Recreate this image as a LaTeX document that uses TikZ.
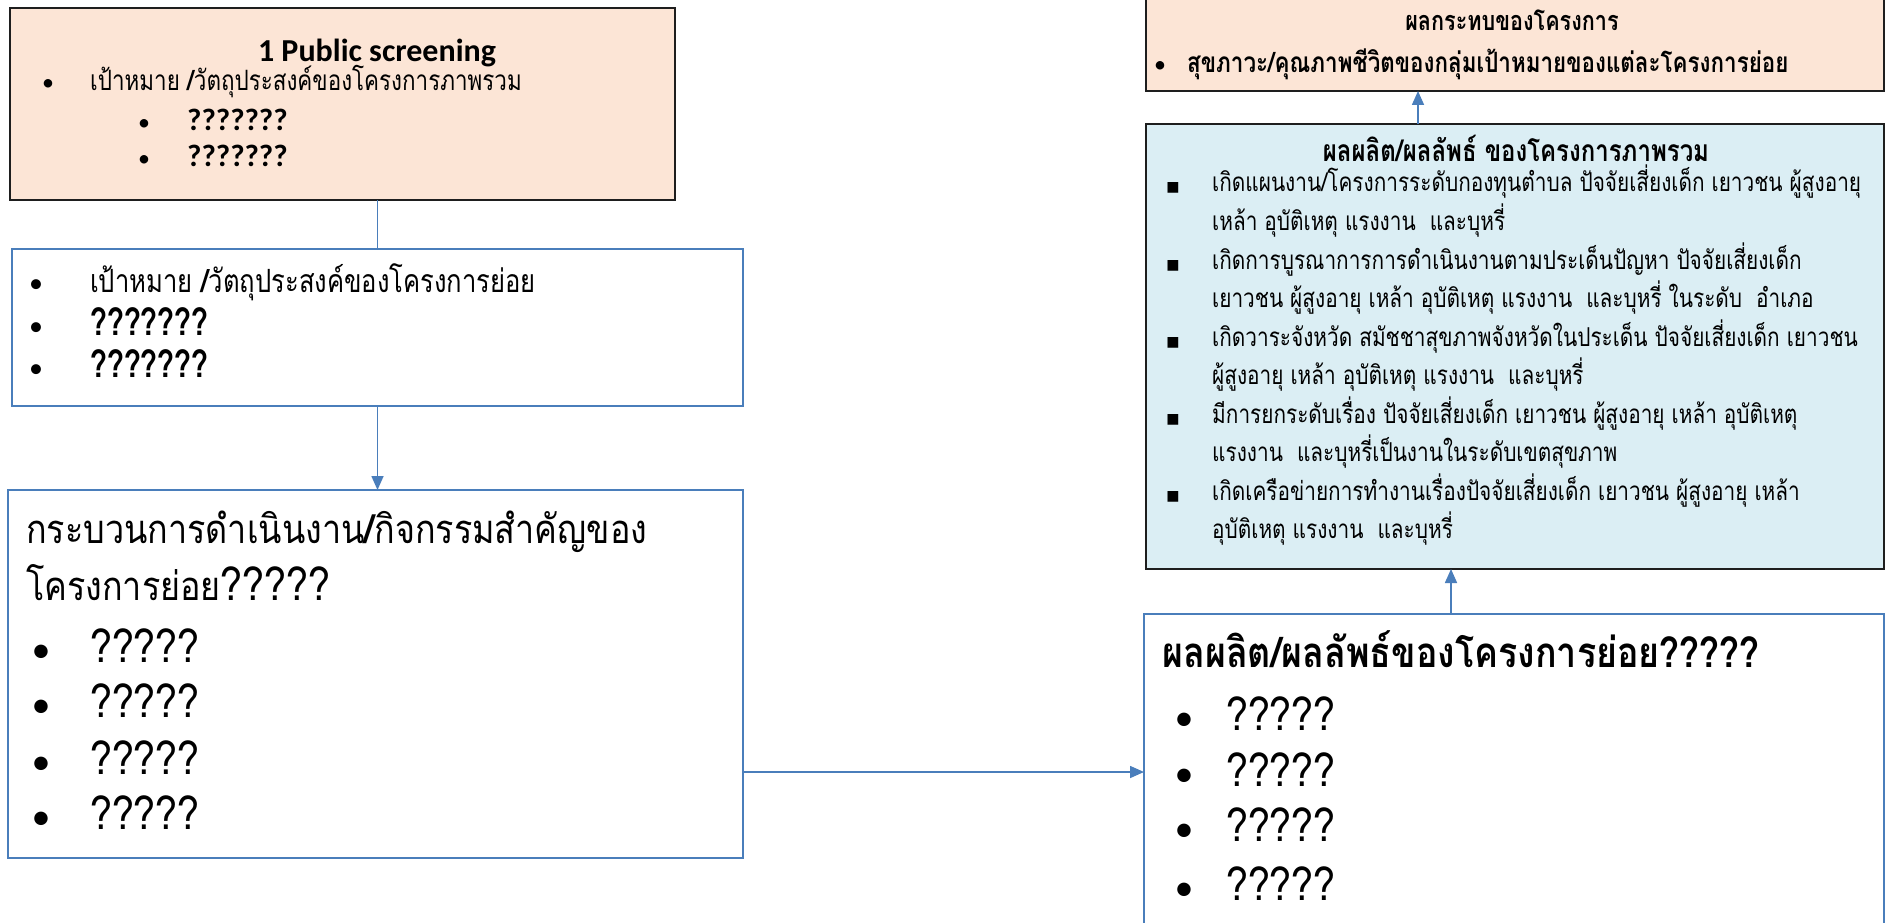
\documentclass[tikz,border=0pt]{standalone}
\usepackage{fontspec}
\usetikzlibrary{arrows.meta,calc}
\setmainfont{Carlito}
\newfontfamily\thn[Script=Thai,FakeStretch=0.8]{Loma}
\newfontfamily\thw[Script=Thai,FakeStretch=0.853]{Loma}
\newfontfamily\sym{DejaVu Sans}
\newcommand\setfs[1]{\fontsize{#1}{#1}\selectfont}
\definecolor{peach}{RGB}{252,229,214}
\definecolor{paleblue}{RGB}{219,238,244}
\definecolor{boxblue}{RGB}{74,126,187}
\definecolor{boxdark}{RGB}{30,30,30}
\begin{document}
\begin{tikzpicture}[x=1pt,y=-1pt,
  box/.style={inner sep=0pt,outer sep=0pt,rectangle},
  peachbox/.style={box,fill=peach,draw=boxdark,line width=1.6pt},
  bluebox/.style={box,fill=paleblue,draw=boxdark,line width=1.6pt},
  linebox/.style={box,fill=white,draw=boxblue,line width=1.8pt},
  conn/.style={draw=boxblue,line width=1.6pt},
  arr/.style={conn,-{Triangle[length=14pt,width=12pt]}},
  txt/.style={inner sep=0pt,anchor=base west},
  bul/.style={inner sep=0pt,anchor=base},
]
\useasboundingbox (0,0) rectangle (1888,923);
\clip (0,0) rectangle (1888,923);
\fill[white] (0,0) rectangle (1888,923);

% boxes
\node[peachbox,minimum width=665pt,minimum height=192pt] (b1) at (342.5,104) {};
\node[linebox,minimum width=731pt,minimum height=157pt] (b2) at (377.5,327.5) {};
\node[linebox,minimum width=735pt,minimum height=368pt] (b3) at (375.5,674) {};
\node[linebox,minimum width=740pt,minimum height=320pt] (b4) at (1514,774) {};
\node[bluebox,minimum width=738pt,minimum height=445pt] (b5) at (1515,346.5) {};
\node[peachbox,minimum width=738pt,minimum height=96pt] (b6) at (1515,43) {};

% connectors
\draw[conn] (b2.north |- b1.south) -- (b2.north);
\draw[arr] (b2.south) -- (b2.south |- b3.north);
\coordinate (e3) at ([yshift=-98pt]b3.east);
\draw[arr] (e3) -- (e3 -| b4.west);
\coordinate (x45) at (1451,0);
\draw[arr] (x45 |- b4.north) -- (x45 |- b5.south);
\coordinate (x56) at (1418,0);
\draw[arr] (x56 |- b5.north) -- (x56 |- b6.south);

% box 1
\node[inner sep=0pt,anchor=base,font=\setfs{32}\bfseries] (t1t) at (377,62) {1 Public screening};
\node[bul,font=\setfs{24}] (t1b1) at (48,91) {•};
\node[txt,font=\thn\setfs{28}] (t1a) at (90,91) {เป้าหมาย {\bfseries/}วัตถุประสงค์ของโครงการภาพรวม};
\node[bul,font=\setfs{24}] (t1b2) at (144,131) {•};
\node[txt,font=\setfs{31}\bfseries] (t1c) at (187,131) {???????};
\node[bul,font=\setfs{24}] (t1b3) at (144,167) {•};
\node[txt,font=\setfs{31}\bfseries] (t1d) at (187,167) {???????};

% box 2
\node[bul,font=\setfs{28}] (t2b1) at (36,292) {•};
\node[txt,font=\thn\setfs{32}] (t2a) at (90,292) {เป้าหมาย {\bfseries/}วัตถุประสงค์ของโครงการย่อย};
\node[bul,font=\setfs{28}] (t2b2) at (36,335) {•};
\node[txt,font=\thn\setfs{38}\bfseries] (t2c) at (90,335) {???????};
\node[bul,font=\setfs{28}] (t2b3) at (36,377) {•};
\node[txt,font=\thn\setfs{38}\bfseries] (t2d) at (90,377) {???????};

% box 3
\node[txt,font=\thw\setfs{40}] (t3a) at (26,543) {กระบวนการดำเนินงาน{\bfseries/}กิจกรรมสำคัญของ};
\node[txt,font=\thw\setfs{40}] (t3b) at (26,600) {โครงการย่อย{\setfs{46}?????}};
\foreach \y [count=\i] in {662,717,774,829}{
  \node[bul,font=\setfs{38}] (t3bul\i) at (41,\y) {•};
  \node[txt,font=\thw\setfs{46}] (t3q\i) at (90,\y) {?????};
}

% box 4
\node[txt,font=\thw\setfs{42}\bfseries] (t4a) at (1162,667) {ผลผลิต/ผลลัพธ์ของโครงการย่อย?????};
\foreach \y [count=\i] in {730,786,841,900}{
  \node[bul,font=\setfs{38}] (t4bul\i) at (1184,\y) {•};
  \node[txt,font=\thw\setfs{46}] (t4q\i) at (1226,\y) {?????};
}

% box 5
\node[inner sep=0pt,anchor=base,font=\thn\setfs{30}\bfseries] (t5t) at (1516,161) {ผลผลิต/ผลลัพธ์ ของโครงการภาพรวม};
\foreach \k/\s [count=\i] in {0/{เกิดแผนงาน/โครงการระดับกองทุนตำบล ปัจจัยเสี่ยงเด็ก เยาวชน ผู้สูงอายุ},
  1/{เหล้า อุบัติเหตุ แรงงาน\ \ และบุหรี่},
  2/{เกิดการบูรณาการการดำเนินงานตามประเด็นปัญหา ปัจจัยเสี่ยงเด็ก},
  3/{เยาวชน ผู้สูงอายุ เหล้า อุบัติเหตุ แรงงาน\ \ และบุหรี่ ในระดับ\ \ อำเภอ},
  4/{เกิดวาระจังหวัด สมัชชาสุขภาพจังหวัดในประเด็น ปัจจัยเสี่ยงเด็ก เยาวชน},
  5/{ผู้สูงอายุ เหล้า อุบัติเหตุ แรงงาน\ \ และบุหรี่},
  6/{มีการยกระดับเรื่อง ปัจจัยเสี่ยงเด็ก เยาวชน ผู้สูงอายุ เหล้า อุบัติเหตุ},
  7/{แรงงาน\ \ และบุหรี่เป็นงานในระดับเขตสุขภาพ},
  8/{เกิดเครือข่ายการทำงานเรื่องปัจจัยเสี่ยงเด็ก เยาวชน ผู้สูงอายุ เหล้า},
  9/{อุบัติเหตุ แรงงาน\ \ และบุหรี่}}{
  \node[txt,font=\thn\setfs{26}] (t5l\i) at (1212,{192+38.5*\k}) {\s};
}
\foreach \k [count=\i] in {0,2,4,6,8}{
  \node[bul,font=\sym\setfs{14}] (t5sq\i) at (1173,{192+38.5*\k}) {■};
}

% box 6
\node[inner sep=0pt,anchor=base,font=\thn\setfs{27}\bfseries] (t6t) at (1512,31) {ผลกระทบของโครงการ};
\node[bul,font=\setfs{24}] (t6b) at (1160,73) {•};
\node[txt,font=\thn\setfs{28}\bfseries] (t6a) at (1187,73) {สุขภาวะ/คุณภาพชีวิตของกลุ่มเป้าหมายของแต่ละโครงการย่อย};
\end{tikzpicture}
\end{document}
